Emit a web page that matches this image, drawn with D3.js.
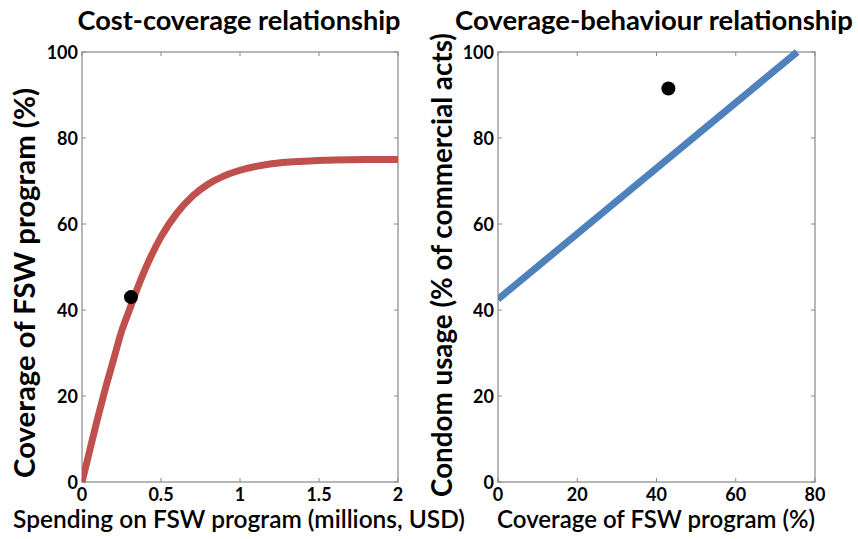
<!DOCTYPE html>
<html><head><meta charset="utf-8">
<script src="https://cdn.jsdelivr.net/npm/d3@7"></script>
<style>
html,body{margin:0;padding:0;background:#fff;}
svg text{font-family:Lato,"Open Sans",sans-serif;fill:#000;}
</style></head>
<body>
<svg id="c" width="858" height="539"></svg>
<script>
// ---- data ----
const spending = [0,0.05,0.1,0.15,0.2,0.25,0.3,0.35,0.4,0.5,0.6,0.7,0.8,0.9,1.0,1.2,1.4,1.6,1.8,2.0];
const coverageCurve = [0,7.5,15,22,28.5,35,40,45,49.5,57,62.5,66.5,69.3,71.2,72.5,74,74.6,74.9,75,75];
const costPoint = [{x:0.31, y:43}];
const coverageLine = [0,75.5];
const condomLine = [42.5,100];
const behaviourPoint = [{x:43, y:91.5}];
const xTicksLeft = [0,0.5,1,1.5,2];
const xTicksRight = [0,20,40,60,80];
const yTicks = [0,20,40,60,80,100];
const titles = ["Cost-coverage relationship","Coverage-behaviour relationship"];
const xLabels = ["Spending on FSW program (millions, USD)","Coverage of FSW program (%)"];
const yLabels = ["Coverage of FSW program (%)","Condom usage (% of commercial acts)"];

const svg = d3.select("#c");
const yTop = 52, yBot = 482;
const panels = [
  {x0:82, x1:398, xd:[0,2], xt:xTicksLeft, title:titles[0], xl:xLabels[0], yl:yLabels[0],
   tx:239, tw:323, xlx:239, xlw:452, ylx:35, yly:283, ylw:390},
  {x0:498, x1:815, xd:[0,80], xt:xTicksRight, title:titles[1], xl:xLabels[1], yl:yLabels[1],
   tx:654, tw:398, xlx:656, xlw:318, ylx:452, yly:265, ylw:464}
];

function fit(sel, w){
  const fs = +sel.attr("font-size");
  const len = sel.node().getComputedTextLength();
  if(len>0) sel.attr("font-size", (fs*w/len).toFixed(2));
  return sel;
}

panels.forEach((p,i)=>{
  const x = d3.scaleLinear().domain(p.xd).range([p.x0,p.x1]);
  const y = d3.scaleLinear().domain([0,100]).range([yBot,yTop]);
  const g = svg.append("g");
  g.append("rect").attr("x",p.x0).attr("y",yTop).attr("width",p.x1-p.x0).attr("height",yBot-yTop)
    .attr("fill","none").attr("stroke","#888").attr("stroke-width",1.2);
  const tl = 4;
  p.xt.forEach(t=>{
    g.append("line").attr("x1",x(t)).attr("x2",x(t)).attr("y1",yBot).attr("y2",yBot-tl).attr("stroke","#888");
    g.append("line").attr("x1",x(t)).attr("x2",x(t)).attr("y1",yTop).attr("y2",yTop+tl).attr("stroke","#888");
    g.append("text").attr("x",x(t)).attr("y",yBot+19).attr("text-anchor","middle")
      .attr("font-size",18).attr("font-weight",700).text(String(t));
  });
  yTicks.forEach(t=>{
    g.append("line").attr("x1",p.x0).attr("x2",p.x0+tl).attr("y1",y(t)).attr("y2",y(t)).attr("stroke","#888");
    g.append("line").attr("x1",p.x1).attr("x2",p.x1-tl).attr("y1",y(t)).attr("y2",y(t)).attr("stroke","#888");
    g.append("text").attr("x",p.x0-4).attr("y",y(t)+6.5).attr("text-anchor","end")
      .attr("font-size",18).attr("font-weight",700).text(t);
  });
  fit(g.append("text").attr("x",p.tx).attr("y",30).attr("text-anchor","middle")
    .attr("font-size",25).attr("font-weight",700).text(p.title), p.tw);
  fit(g.append("text").attr("x",p.xlx).attr("y",528).attr("text-anchor","middle")
    .attr("font-size",21).attr("font-weight",600).text(p.xl), p.xlw);
  fit(g.append("text").attr("transform",`translate(${p.ylx},${p.yly}) rotate(-90)`).attr("text-anchor","middle")
    .attr("font-size",22).attr("font-weight",700).text(p.yl), p.ylw);

  const clip = "clip"+i;
  g.append("clipPath").attr("id",clip).append("rect").attr("x",p.x0).attr("y",yTop-4).attr("width",p.x1-p.x0).attr("height",yBot-yTop+8);

  if(i===0){
    const data = spending.map((s,k)=>[s,coverageCurve[k]]);
    g.append("path").datum(data).attr("clip-path",`url(#${clip})`)
      .attr("d",d3.line().x(d=>x(d[0])).y(d=>y(d[1])).curve(d3.curveMonotoneX))
      .attr("fill","none").attr("stroke","#c0504d").attr("stroke-width",7);
    g.selectAll(".pt").data(costPoint).enter().append("circle")
      .attr("cx",d=>x(d.x)).attr("cy",d=>y(d.y)).attr("r",7).attr("fill","#000");
  } else {
    const data = coverageLine.map((c,k)=>[c,condomLine[k]]);
    g.append("path").datum(data).attr("clip-path",`url(#${clip})`)
      .attr("d",d3.line().x(d=>x(d[0])).y(d=>y(d[1])))
      .attr("fill","none").attr("stroke","#4f81bd").attr("stroke-width",7);
    g.selectAll(".pt").data(behaviourPoint).enter().append("circle")
      .attr("cx",d=>x(d.x)).attr("cy",d=>y(d.y)).attr("r",7).attr("fill","#000");
  }
});
</script>
</body></html>
